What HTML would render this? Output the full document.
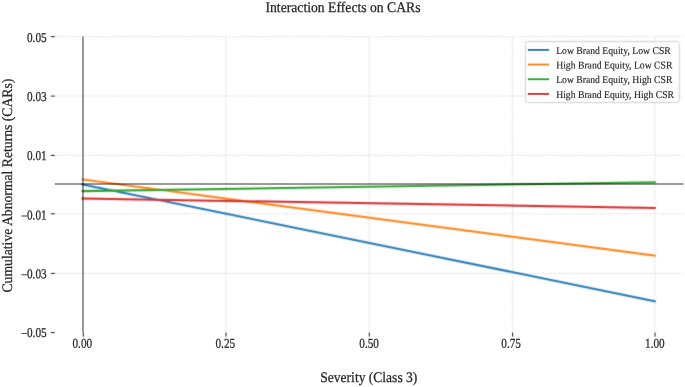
<!DOCTYPE html>
<html><head><meta charset="utf-8"><style>
html,body{margin:0;padding:0;background:#fff;overflow:hidden;}
svg{display:block;will-change:transform;text-rendering:geometricPrecision;font-family:"Liberation Serif",serif;}
</style></head><body>
<svg width="685" height="387" viewBox="0 0 685 387">
<rect width="685" height="387" fill="#fff"/>
<defs><filter id="f60" filterUnits="userSpaceOnUse" x="0" y="0" width="685" height="387"><feConvolveMatrix order="3" kernelMatrix="0.0277 0.1110 0.0277 0.1110 0.4452 0.1110 0.0277 0.1110 0.0277" divisor="1" edgeMode="none" preserveAlpha="false"/></filter><filter id="f45" filterUnits="userSpaceOnUse" x="0" y="0" width="685" height="387"><feConvolveMatrix order="3" kernelMatrix="0.0052 0.0619 0.0052 0.0619 0.7314 0.0619 0.0052 0.0619 0.0052" divisor="1" edgeMode="none" preserveAlpha="false"/></filter></defs>
<g filter="url(#f60)" stroke="#b0b0b0" stroke-opacity="0.36" stroke-width="1.0" stroke-dasharray="2.8,1.328"><line x1="54.8" y1="36.65" x2="683.4" y2="36.65"/><line x1="54.8" y1="96.10" x2="683.4" y2="96.10"/><line x1="54.8" y1="155.40" x2="683.4" y2="155.40"/><line x1="54.8" y1="213.80" x2="683.4" y2="213.80"/><line x1="54.8" y1="273.40" x2="683.4" y2="273.40"/><line x1="225.80" y1="332.6" x2="225.80" y2="36.6"/><line x1="369.10" y1="332.6" x2="369.10" y2="36.6"/><line x1="512.40" y1="332.6" x2="512.40" y2="36.6"/><line x1="654.85" y1="332.6" x2="654.85" y2="36.6"/></g>
<g filter="url(#f45)" stroke="#262626" stroke-width="1.0"><line x1="50.80" y1="36.65" x2="54.80" y2="36.65"/><line x1="50.80" y1="96.10" x2="54.80" y2="96.10"/><line x1="50.80" y1="155.40" x2="54.80" y2="155.40"/><line x1="50.80" y1="213.80" x2="54.80" y2="213.80"/><line x1="50.80" y1="273.40" x2="54.80" y2="273.40"/><line x1="50.80" y1="332.60" x2="54.80" y2="332.60"/><line x1="83.30" y1="332.60" x2="83.30" y2="336.60"/><line x1="226.00" y1="332.60" x2="226.00" y2="336.60"/><line x1="369.30" y1="332.60" x2="369.30" y2="336.60"/><line x1="512.60" y1="332.60" x2="512.60" y2="336.60"/><line x1="655.05" y1="332.60" x2="655.05" y2="336.60"/></g>
<g filter="url(#f60)"><line x1="82.50" y1="184.48" x2="654.85" y2="301.22" stroke="#1f77b4" stroke-width="2.0" stroke-opacity="1.0" stroke-linecap="square"/><line x1="82.50" y1="179.49" x2="654.85" y2="255.64" stroke="#ff7f0e" stroke-width="2.0" stroke-opacity="1.0" stroke-linecap="square"/><line x1="82.50" y1="191.12" x2="654.85" y2="182.23" stroke="#2ca02c" stroke-width="2.0" stroke-opacity="1.0" stroke-linecap="square"/><line x1="82.50" y1="198.50" x2="654.85" y2="207.98" stroke="#d62728" stroke-width="2.0" stroke-opacity="1.0" stroke-linecap="square"/></g>
<g stroke="#000" stroke-opacity="0.4" stroke-width="2.0"><line x1="54.8" y1="184.0" x2="683.4" y2="184.0"/><line x1="83.0" y1="36.6" x2="83.0" y2="332.6"/></g>
<g fill="#262626" stroke="#262626" stroke-width="0.25"><text transform="translate(82.30,347.80) rotate(0.05) scale(0.83,1)" font-size="13.5" text-anchor="middle">0.00</text>
<text transform="translate(225.30,347.80) rotate(0.05) scale(0.83,1)" font-size="13.5" text-anchor="middle">0.25</text>
<text transform="translate(369.10,347.80) rotate(0.05) scale(0.83,1)" font-size="13.5" text-anchor="middle">0.50</text>
<text transform="translate(511.10,347.80) rotate(0.05) scale(0.83,1)" font-size="13.5" text-anchor="middle">0.75</text>
<text transform="translate(654.85,347.80) rotate(0.05) scale(0.83,1)" font-size="13.5" text-anchor="middle">1.00</text>
<text transform="translate(46.60,42.00) rotate(0.05) scale(0.83,1)" font-size="13.5" text-anchor="end">0.05</text>
<text transform="translate(46.60,101.05) rotate(0.05) scale(0.83,1)" font-size="13.5" text-anchor="end">0.03</text>
<text transform="translate(46.60,160.10) rotate(0.05) scale(0.83,1)" font-size="13.5" text-anchor="end">0.01</text>
<text transform="translate(46.60,219.40) rotate(0.05) scale(0.83,1)" font-size="13.5" text-anchor="end"><tspan dy="1.0">−</tspan><tspan dy="-1.0" dx="-0.4">0.01</tspan></text>
<text transform="translate(46.60,278.20) rotate(0.05) scale(0.83,1)" font-size="13.5" text-anchor="end"><tspan dy="1.0">−</tspan><tspan dy="-1.0" dx="-0.4">0.03</tspan></text>
<text transform="translate(46.60,337.10) rotate(0.05) scale(0.83,1)" font-size="13.5" text-anchor="end"><tspan dy="1.0">−</tspan><tspan dy="-1.0" dx="-0.4">0.05</tspan></text>
<text transform="translate(343.00,12.00) rotate(0.05) scale(0.937,1)" font-size="14.6" text-anchor="middle">Interaction Effects on CARs</text>
<text transform="translate(368.80,382.00) rotate(0.05) scale(0.928,1)" font-size="14.6" text-anchor="middle">Severity (Class 3)</text>
<text transform="translate(12.00,185.60) rotate(-90) rotate(0.05) scale(0.937,1)" font-size="14.6" text-anchor="middle">Cumulative Abnormal Returns (CARs)</text></g>
<rect filter="url(#f60)" x="525.5" y="41.6" width="153.8" height="60.9" rx="2" ry="2" fill="#fff" fill-opacity="0.8" stroke="#cccccc" stroke-width="1.0"/>
<g><line x1="527.8" y1="49.90" x2="549.1" y2="49.90" stroke="#1f77b4" stroke-width="2.0" stroke-opacity="0.88"/><line x1="527.8" y1="64.57" x2="549.1" y2="64.57" stroke="#ff7f0e" stroke-width="2.0" stroke-opacity="0.88"/><line x1="527.8" y1="79.24" x2="549.1" y2="79.24" stroke="#2ca02c" stroke-width="2.0" stroke-opacity="0.88"/><line x1="527.8" y1="93.91" x2="549.1" y2="93.91" stroke="#d62728" stroke-width="2.0" stroke-opacity="0.88"/></g>
<g fill="#262626" stroke="#262626" stroke-width="0.15"><text transform="translate(556.20,54.00) rotate(0.05) scale(0.93,1)" font-size="10.4" text-anchor="start">Low Brand Equity, Low CSR</text><text transform="translate(556.20,68.40) rotate(0.05) scale(0.93,1)" font-size="10.4" text-anchor="start">High Brand Equity, Low CSR</text><text transform="translate(556.20,83.00) rotate(0.05) scale(0.93,1)" font-size="10.4" text-anchor="start">Low Brand Equity, High CSR</text><text transform="translate(556.20,98.00) rotate(0.05) scale(0.93,1)" font-size="10.4" text-anchor="start">High Brand Equity, High CSR</text></g>
</svg>
</body></html>
